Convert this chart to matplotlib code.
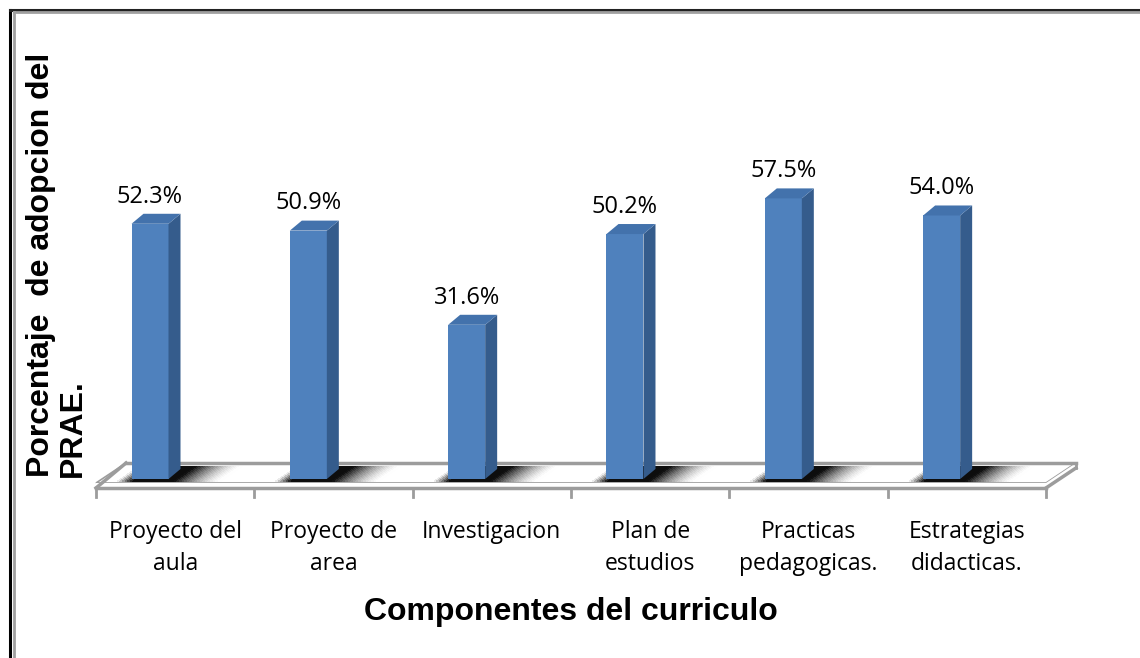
import matplotlib.pyplot as plt
from matplotlib.patches import Polygon
from matplotlib.lines import Line2D

# data
categories = ["Proyecto del\naula", "Proyecto de\narea", "Investigacion",
              "Plan de\nestudios", "Practicas\npedagogicas.", "Estrategias\ndidacticas."]
values = [52.3, 50.9, 31.6, 50.2, 57.5, 54.0]
value_labels = ["52.3%", "50.9%", "31.6%", "50.2%", "57.5%", "54.0%"]

FRONT = "#4F81BD"
TOP = "#4372AC"
SIDE = "#355C8C"
GRID = "#9C9C9C"

fig = plt.figure(figsize=(11.4, 6.58), dpi=100)

# background axes in pixel coords for the frame and titles
bg = fig.add_axes([0, 0, 1, 1])
bg.set_xlim(0, 1140)
bg.set_ylim(658, 0)
bg.axis("off")
bg.add_line(Line2D([9.5, 9.5], [9.5, 658], color="black", lw=2.2))
bg.add_line(Line2D([9.5, 1140], [9.5, 9.5], color="#222222", lw=2.2))
bg.add_line(Line2D([14, 14], [12, 658], color="#A0A0A0", lw=2))
bg.add_line(Line2D([14, 1140], [12, 12], color="#A0A0A0", lw=2))

bg.text(571, 612, "Componentes del curriculo", ha="center", va="center",
        fontsize=23, fontweight="bold", family="Liberation Sans")
bg.text(57, 265, "Porcentaje  de adopcion del\nPRAE.", rotation=90, ha="center",
        va="center", multialignment="left", fontsize=23, fontweight="bold",
        family="Liberation Sans", linespacing=1.05)

# main axes: x = category index, y = percent
px_per_cat = 158.33
px_per_pct = 4.88
x0_px, y0_px = 150, 479
xl, xr = -0.5, 5.5
yl, yh = 0, 60
ax = fig.add_axes([(x0_px + xl * px_per_cat) / 1140, (658 - y0_px) / 658,
                   (xr - xl) * px_per_cat / 1140, (yh - yl) * px_per_pct / 658])
ax.set_xlim(xl, xr)
ax.set_ylim(yl, yh)
ax.axis("off")

# floor
fl, fr = -0.341, 5.659
fdx = 30 / px_per_cat
f_front, f_back, f_bottom = -0.82, 3.28, -1.84
ax.add_patch(Polygon([(fl, f_front), (fr, f_front), (fr + fdx, f_back), (fl + fdx, f_back)],
                     closed=True, facecolor="white", edgecolor=GRID, lw=1.2, clip_on=False, zorder=1))
ax.add_patch(Polygon([(fl, f_bottom), (fr, f_bottom), (fr + fdx, f_back - (f_front - f_bottom)),
                      (fr + fdx, f_back), (fr, f_front), (fl, f_front)],
                     closed=True, facecolor="white", edgecolor="none", clip_on=False, zorder=1))
ax.plot([fl, fr], [f_bottom, f_bottom], color=GRID, lw=2.5, clip_on=False, zorder=2)
ax.plot([fl, fl + fdx], [f_bottom, f_back], color=GRID, lw=2.5, clip_on=False, zorder=2)
ax.plot([fr, fr + fdx], [f_bottom, f_back - (f_front - f_bottom)], color=GRID, lw=2.5, clip_on=False, zorder=2)
ax.plot([fr + fdx, fr + fdx], [f_back - (f_front - f_bottom), f_back], color=GRID, lw=2, clip_on=False, zorder=2)
ax.plot([fl + fdx, fr + fdx], [f_back, f_back], color=GRID, lw=2.5, clip_on=False, zorder=2)
for k in range(7):
    ax.plot([fl + k, fl + k], [f_bottom, -3.7], color=GRID, lw=2, clip_on=False, zorder=2)

# bars
w = 37 / px_per_cat
dx = 12 / px_per_cat
dy = 10 / px_per_pct
sdx = 22 / px_per_cat
for i, v in enumerate(values):
    left, right = i - w / 2, i + w / 2
    # soft shadow on the floor, drawn as slices with fading grey
    s_left, s_right = left - 0.09, right + 0.33
    n = 40
    step = (s_right - s_left) / n
    for s in range(n):
        a0 = s_left + s * step
        a1 = a0 + step * 1.05
        mid = a0 + step / 2
        if mid < left:
            dark = 0.85 * (mid - s_left) / (left - s_left)
        elif mid < right + 0.04:
            dark = 0.95
        else:
            dark = max(0.0, 0.95 * (1 - (mid - right - 0.04) / (s_right - right - 0.04)) ** 1.5)
        g = 1 - dark
        ax.add_patch(Polygon([(a0, -0.45), (a1, -0.45), (a1 + sdx, 2.6), (a0 + sdx, 2.6)],
                             closed=True, facecolor=(g, g, g), lw=0, antialiased=False,
                             clip_on=False, zorder=3))
    ax.add_patch(Polygon([(left, 0), (right, 0), (right, v), (left, v)], closed=True,
                         facecolor=FRONT, edgecolor="none", clip_on=False, zorder=5))
    ax.add_patch(Polygon([(right, 0), (right + dx, dy), (right + dx, v + dy), (right, v)],
                         closed=True, facecolor=SIDE, edgecolor="none", clip_on=False, zorder=5))
    ax.add_patch(Polygon([(left, v), (right, v), (right + dx, v + dy), (left + dx, v + dy)],
                         closed=True, facecolor=TOP, edgecolor="none", clip_on=False, zorder=5))
    ax.text(i, v + 3.1, value_labels[i], ha="center", va="bottom", fontsize=17,
            family="Open Sans", clip_on=False)
    ax.text(i + 0.159, -8.3, categories[i], ha="center", va="top", fontsize=16.5,
            family="Open Sans", linespacing=1.45, clip_on=False)

fig.savefig("out.png", dpi=100)
